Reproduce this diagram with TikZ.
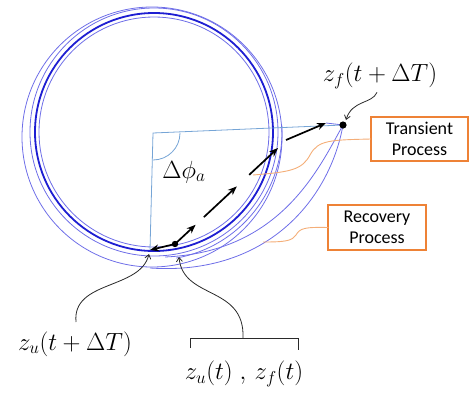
\documentclass[tikz,border=0pt]{standalone}
\usepackage{amsmath}
\usepackage{fontspec}
\usetikzlibrary{arrows.meta,positioning,calc}
\newfontfamily\boxfont{Carlito}
\definecolor{orbit}{HTML}{1E1ED2}
\definecolor{orbit2}{HTML}{6E6EE8}
\definecolor{angl}{HTML}{76A5D6}
\definecolor{box1}{HTML}{EE8236}
\definecolor{lead1}{HTML}{F4AE78}
\definecolor{ink}{HTML}{2A2A2A}

\begin{document}
\begin{tikzpicture}[x=1pt,y=-1pt,font=\fontsize{25}{28}\selectfont,
  procbox/.style={fill=white,font=\boxfont\fontsize{18}{21}\selectfont,align=center,minimum width=97pt,minimum height=44pt,inner sep=1pt},
  boxline/.style={box1,line width=1.8pt},
  leader/.style={lead1,line width=0.9pt},
  pointer/.style={ink,line width=0.8pt,-{Straight Barb[length=4pt,width=6pt]}},
  movearrow/.style={black,line width=1.7pt,-{Stealth[length=9pt,width=7pt]}},
  thinorbit/.style={orbit2,line width=0.8pt}]
  \useasboundingbox (0,0) rectangle (471,394);
  \coordinate (ctr) at (154,132); \coordinate (a0) at (153,133);
  \coordinate (zu1) at (150,250); \coordinate (zt) at (175,244); \coordinate (zf1) at (343,125);
  \coordinate (k1) at (278,148); \coordinate (k2) at (286,140); \coordinate (k3) at (326,123);
  % orbits
  \draw[thinorbit] (152,137) circle[radius=130pt];
  \draw[thinorbit] (ctr) circle[radius=124pt];
  \draw[thinorbit] (ctr) circle[radius=115pt];
  \draw[orbit,line width=1.8pt] (ctr) circle[radius=119pt];
  \draw[thinorbit] (ctr) ++(-80:128pt) arc[start angle=-80,end angle=3,radius=128pt];
  \draw[thinorbit] (zf1) .. controls (318,170) and (280,252) .. (165,257);
  \draw[thinorbit] (zf1) .. controls (330,198) and (268,276) .. (150,268);
  \draw[thinorbit] (k3) -- (zf1);
  % angle
  \draw[angl,line width=0.8pt] (zf1) -- (a0) -- (zu1);
  \draw[angl,line width=0.8pt] ($(a0)+(27pt,0pt)$) arc[start angle=0,end angle=-90,radius=27pt];
  \node (dphi) at (184,172) {$\Delta\phi_a$};
  % motion
  \draw[movearrow] (zt) -- (zu1);
  \draw[movearrow] (zt) -- ($(zt)!0.2!(k1)$);
  \draw[movearrow] ($(zt)!0.28!(k1)$) -- ($(zt)!0.6!(k1)$);
  \draw[movearrow] ($(zt)!0.72!(k1)$) -- (k1);
  \draw[movearrow] (k2) -- (k3);
  \fill (zt) circle[radius=3.2pt]; \fill (zf1) circle[radius=3.6pt];
  % labels
  \node (lzf1) at (380,76) {$z_f(t+\Delta T)$};
  \node (lzu1) at (75,344) {$z_u(t+\Delta T)$};
  \node (lzt) at (244,374) {$z_u(t)\;,\,z_f(t)$};
  \coordinate (zf1tip) at (346,120); \coordinate (zu1tip) at (149,254); \coordinate (zttip) at (179,257);
  \draw[pointer] ([xshift=-3pt]lzf1.south) .. controls (372,104) and (352,100) .. (zf1tip);
  \draw[pointer] (76,322) .. controls (72,280) and (140,290) .. (zu1tip);
  \coordinate (bmid) at (243,338);
  \draw[ink,line width=0.8pt] (190,348) -- (190,338) -- (298,338) -- (298,350);
  \draw[pointer] (bmid) .. controls (245,285) and (183,300) .. (zttip);
  % process boxes
  \node[procbox] (trans) at (419.5,139) {Transient\\Process};
  \node[procbox] (recov) at (377,227.5) {Recovery\\Process};
  \draw[boxline] (trans.north west) rectangle (trans.south east);
  \draw[boxline] (recov.north west) rectangle (recov.south east);
  \coordinate (tend) at (253,175); \coordinate (rend) at (263,242);
  \draw[leader] (trans.west) .. controls (330,140) and (318,140) .. (310,155) .. controls (302,170) and (290,172) .. (tend);
  \draw[leader] (recov.west) .. controls (305,227) and (300,228) .. (296,235) .. controls (292,241) and (285,242) .. (rend);
\end{tikzpicture}
\end{document}
